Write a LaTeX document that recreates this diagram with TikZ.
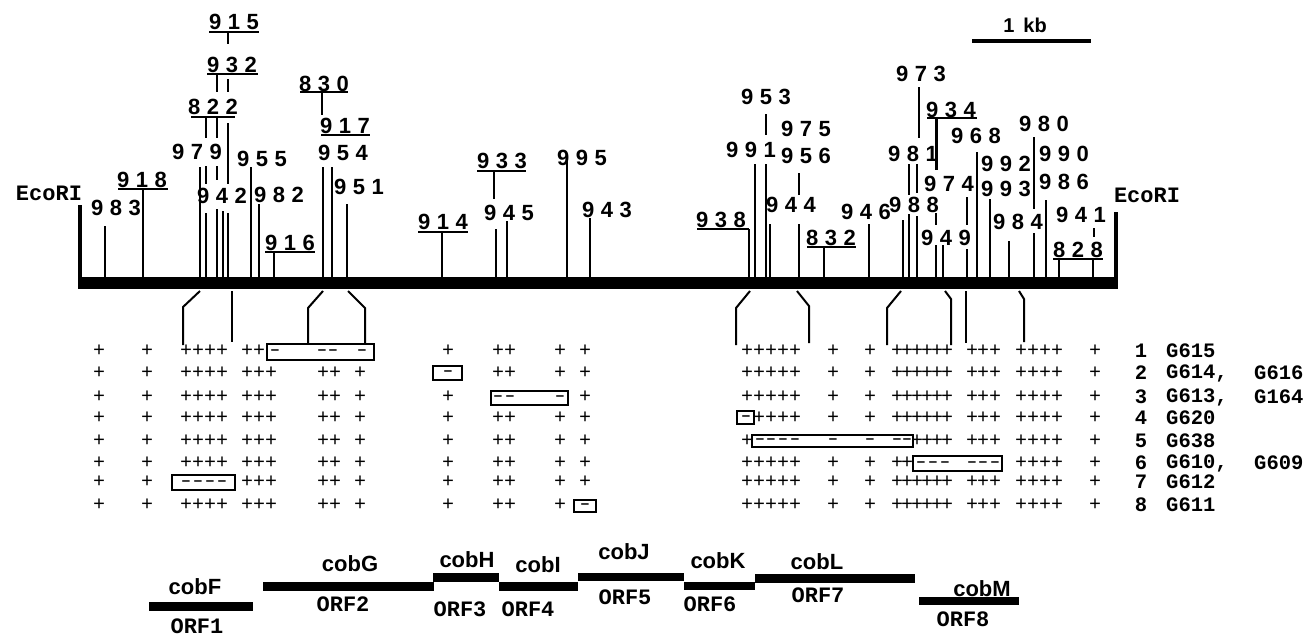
\documentclass[tikz,border=0pt]{standalone}
\usepackage{fontspec}
\setmainfont{Liberation Sans}
\newfontfamily\monofont{Liberation Mono}
\newcommand\nn[3]{#1\kern6.5pt#2\kern6.5pt#3}
\begin{document}
\begin{tikzpicture}[x=1pt,y=-1pt,
  num/.style={font=\fontsize{22}{22}\selectfont\bfseries, inner sep=0pt},
  cour/.style={font=\fontsize{22}{22}\selectfont\monofont\bfseries, inner sep=0pt},
  rlab/.style={font=\fontsize{20.5}{20.5}\selectfont\monofont\bfseries, inner sep=0pt},
  gene/.style={font=\fontsize{22}{22}\selectfont\bfseries, inner sep=0pt},
  pl/.style={font=\fontsize{20}{20}\selectfont\monofont, inner sep=0pt},
  dsh/.style={font=\fontsize{15}{15}\selectfont\bfseries, inner sep=0pt},
  tk/.style={line width=2pt},
  ul/.style={line width=1.6pt},
  mbox/.style={draw, line width=2pt},
  gbar/.style={fill=black}]
\fill[white] (0,0) rectangle (1311,634);
\useasboundingbox (0,0) rectangle (1311,634);
% scale bar
\draw[line width=4pt] (972,41) -- (1091,41);
\node[gene, font=\fontsize{20}{20}\selectfont\bfseries] (kb) at (1025,25) {1\hspace{9pt}kb};
% main bar and EcoRI ends
\fill (80,277) rectangle (1117,289);
\draw[line width=4pt] (80,205) -- (80,289);
\draw[line width=4pt] (1116,212) -- (1116,289);
\node[cour] (ecoL) at (49,193) {EcoRI};
\node[cour] (ecoR) at (1147,195) {EcoRI};
% plain labels
\foreach \nm/\x/\y in {983/116/208, 979/197/152, 942/222/196, 955/262/159, 982/279/195,
  954/343/153, 951/359/187, 945/509/213, 995/582/158, 943/607/210, 991/751/150,
  953/766/97, 975/806/129, 956/806/156, 944/791/205, 946/866/212, 988/914/205,
  981/913/154, 973/921/74, 974/949/184, 949/946/238, 968/976/136, 992/1006/164,
  993/1006/189, 984/1018/222, 980/1044/124, 990/1064/154, 986/1064/182, 941/1081/215}
  \node[num] (n\nm) at (\x,\y) {\expandafter\nn\nm};
% underlined labels
\foreach \nm/\x/\y/\ua/\ub/\uy in {918/142/180/118/168/189, 822/213/107/191/235/117,
  932/232/65/207/258/74, 915/234/22/209/259/32, 916/290/243/265/315/252,
  830/324/84/300/348/92, 917/345/126/321/370/135, 914/443/222/418/468/232,
  933/502/161/477/526/171, 938/721/220/697/749/229, 832/831/238/807/856/247,
  934/951/110/927/977/118, 828/1078/250/1053/1103/259}
  {\node[num] (n\nm) at (\x,\y) {\expandafter\nn\nm};
   \draw[ul] (\ua,\uy) -- (\ub,\uy);}
% ticks
\foreach \x/\ya/\yb in {105/226/277, 143/189/277, 200/167/277, 228/32/44, 217/74/92,
  228/79/92, 206/117/138, 217/117/138, 206/166/184, 217/166/180, 206/213/277,
  217/209/277, 228/123/184, 228/213/277, 223/211/277, 251/167/277, 259/204/277,
  274/252/277, 322/92/115, 323/167/277, 332/167/277, 347/204/277,
  442/232/277, 494/171/199, 496/229/277, 507/221/277, 567/160/277, 590/218/277,
  749/229/277, 755/164/277, 766/164/277, 766/114/135, 799/173/195, 770/224/277,
  799/224/277, 824/247/277, 869/224/277, 903/220/277, 909/214/277, 917/216/277,
  909/164/195, 917/164/193, 919/87/138, 967/197/225, 967/249/277,
  936/245/277, 943/245/277, 936/213/225, 977/152/277, 990/199/277, 1009/241/277,
  1034/233/277, 1034/137/209, 1046/200/277, 1094/228/237, 1059/259/277, 1093/259/277}
  \draw[tk] (\x,\ya) -- (\x,\yb);
\draw[line width=3pt] (936,118) -- (936,170);
% connectors below bar
\draw[tk] (200,291) -- (183,307) -- (183,345);
\draw[tk] (232,291) -- (232,342);
\draw[tk] (323,291) -- (308,308) -- (308,344);
\draw[tk] (348,291) -- (365,308) -- (365,344);
\draw[tk] (750,291) -- (736,308) -- (736,345);
\draw[tk] (797,291) -- (809,306) -- (809,343);
\draw[tk] (901,291) -- (887,308) -- (887,345);
\draw[tk] (945,291) -- (951,299) -- (951,345);
\draw[tk] (966,291) -- (966,343);
\draw[tk] (1019,291) -- (1024,299) -- (1024,342);
% rows of plus signs
\def\R{747,759,771,783,795,833,870,897,907,917,927,937,947,972,983,995,1021,1033,1045,1057,1095}
\def\L{99,147,186,198,210,222,247,259,271,323,335,360,448,498,510,560,585}
% row 1
\foreach \x in {99,147,186,198,210,222,247,259,448,498,510,560,585} \node[pl] at (\x,351) {+};
\foreach \x in \R \node[pl] at (\x,351) {+};
\draw[mbox] (267,344) rectangle (374,360);
\foreach \x in {275,322,333,362} \node[dsh] at (\x,352) {\textendash};
% row 2
\foreach \x in {99,147,186,198,210,222,247,259,271,323,335,360,498,510,560,585} \node[pl] at (\x,373) {+};
\foreach \x in \R \node[pl] at (\x,373) {+};
\draw[mbox] (433,366) rectangle (462,380);
\node[dsh] at (448,373) {\textendash};
% row 3
\foreach \x in {99,147,186,198,210,222,247,259,271,323,335,360,448,585} \node[pl] at (\x,397) {+};
\foreach \x in \R \node[pl] at (\x,397) {+};
\draw[mbox] (491,391) rectangle (568,405);
\foreach \x in {498,510,560} \node[dsh] at (\x,398) {\textendash};
% row 4
\foreach \x in \L \node[pl] at (\x,418) {+};
\foreach \x in {759,771,783,795,833,870,897,907,917,927,937,947,972,983,995,1021,1033,1045,1057,1095} \node[pl] at (\x,418) {+};
\draw[mbox] (737,411) rectangle (754,424);
\node[dsh] at (746,418) {\textendash};
% row 5
\foreach \x in \L \node[pl] at (\x,441) {+};
\foreach \x in {747,917,927,937,947,972,983,995,1021,1033,1045,1057,1095} \node[pl] at (\x,441) {+};
\draw[mbox] (752,435) rectangle (913,447);
\foreach \x in {760,771,783,795,833,870,897,907} \node[dsh] at (\x,441) {\textendash};
% row 6
\foreach \x in \L \node[pl] at (\x,463) {+};
\foreach \x in {747,759,771,783,795,833,870,897,907,1021,1033,1045,1057,1095} \node[pl] at (\x,463) {+};
\draw[mbox] (913,456) rectangle (1002,471);
\foreach \x in {921,933,945,972,983,995} \node[dsh] at (\x,464) {\textendash};
% row 7
\foreach \x in {99,147,247,259,271,323,335,360,448,498,510,560,585} \node[pl] at (\x,482) {+};
\foreach \x in \R \node[pl] at (\x,482) {+};
\draw[mbox] (172,475) rectangle (235,490);
\foreach \x in {186,198,210,222} \node[dsh] at (\x,483) {\textendash};
% row 8
\foreach \x in {99,147,186,198,210,222,247,259,271,323,335,360,448,498,510,560} \node[pl] at (\x,505) {+};
\foreach \x in \R \node[pl] at (\x,505) {+};
\draw[mbox] (574,500) rectangle (596,512);
\node[dsh] at (585,506) {\textendash};
% row labels
\foreach \n/\y/\g in {1/351/G615, 2/373/{G614,}, 3/397/{G613,}, 4/418/G620, 5/441/G638, 6/463/{G610,}, 7/482/G612, 8/505/G611}
  {\node[rlab] (r\n) at (1141,\y) {\n};
   \node[rlab, anchor=west] (g\n) at (1166,\y) {\g};}
\node[rlab, anchor=west] (g2b) at (1254,373) {G616};
\node[rlab, anchor=west] (g3b) at (1254,397) {G164};
\node[rlab, anchor=west] (g6b) at (1254,463) {G609};
% gene map
\fill[gbar] (149,602) rectangle (253,611);
\fill[gbar] (263,582) rectangle (434,591);
\fill[gbar] (433,573) rectangle (499,582);
\fill[gbar] (499,582) rectangle (578,591);
\fill[gbar] (578,573) rectangle (684,581);
\fill[gbar] (684,582) rectangle (755,590);
\fill[gbar] (755,574) rectangle (915,583);
\fill[gbar] (919,597) rectangle (1019,605);
\node[gene] (cobF) at (195,587) {cobF};
\node[gene] (cobG) at (350,564) {cobG};
\node[gene] (cobH) at (467,560) {cobH};
\node[gene] (cobI) at (538,565) {cobI};
\node[gene] (cobJ) at (624,552) {cobJ};
\node[gene] (cobK) at (718,561) {cobK};
\node[gene] (cobL) at (817,562) {cobL};
\node[gene] (cobM) at (982,589) {cobM};
\node[cour] (orf1) at (197,626) {ORF1};
\node[cour] (orf2) at (343,604) {ORF2};
\node[cour] (orf3) at (460,609) {ORF3};
\node[cour] (orf4) at (528,609) {ORF4};
\node[cour] (orf5) at (625,597) {ORF5};
\node[cour] (orf6) at (710,604) {ORF6};
\node[cour] (orf7) at (818,595) {ORF7};
\node[cour] (orf8) at (963,619) {ORF8};
\end{tikzpicture}
\end{document}
